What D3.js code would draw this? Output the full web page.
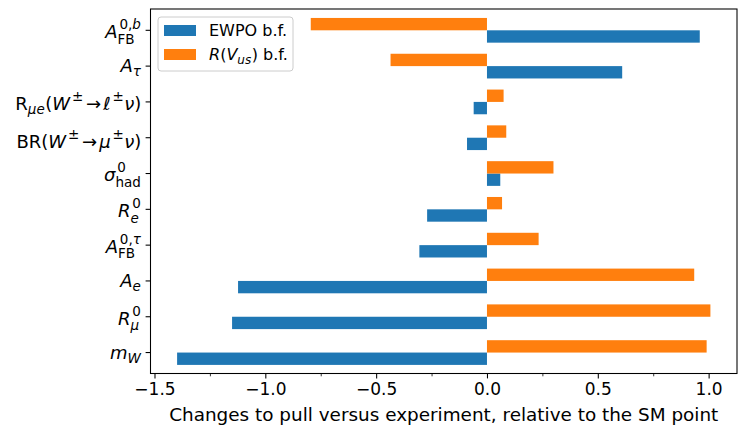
<!DOCTYPE html>
<html>
<head>
<meta charset="utf-8">
<script src="https://cdn.jsdelivr.net/npm/d3@7"></script>
<style>
  body { margin: 0; background: #fff; }
  text { font-family: "DejaVu Sans"; fill: #000; }
</style>
</head>
<body>
<div id="chart"></div>
<script>
// observables, top to bottom
const observables = ["AFB0b", "Atau", "Rmue", "BRWmu", "sigmahad", "Re0", "AFB0tau", "Ae", "Rmu0", "mW"];
const ewpo = [0.96, 0.61, -0.06, -0.09, 0.06, -0.27, -0.305, -1.123, -1.15, -1.398];
const rvus = [-0.795, -0.435, 0.075, 0.087, 0.30, 0.068, 0.233, 0.935, 1.008, 0.991];
const xTicks = [-1.5, -1.0, -0.5, 0.0, 0.5, 1.0];
const xMinorTicks = [-1.25, -0.75, -0.25, 0.25, 0.75];
const xTitle = "Changes to pull versus experiment, relative to the SM point";

// mathtext-ish pieces for the labels: t = text, i = italic, sub/sup = scripts, rel = relation spacing
const labelParts = {
  AFB0b: [{t: "A", i: 1}, {sub: [{t: "FB"}], sup: [{t: "0, "}, {t: "b", i: 1}]}],
  Atau: [{t: "A", i: 1}, {sub: [{t: "τ", i: 1}]}],
  Rmue: [{t: "R"}, {sub: [{t: "μe", i: 1}]}, {t: "("}, {t: "W", i: 1}, {sup: [{t: "±"}]}, {t: "→", rel: 1}, {t: "ℓ", i: 1}, {sup: [{t: "±"}]}, {t: "ν", i: 1}, {t: ")"}],
  BRWmu: [{t: "BR("}, {t: "W", i: 1}, {sup: [{t: "±"}]}, {t: "→", rel: 1}, {t: "μ", i: 1}, {sup: [{t: "±"}]}, {t: "ν", i: 1}, {t: ")"}],
  sigmahad: [{t: "σ", i: 1}, {sub: [{t: "had"}], sup: [{t: "0"}]}],
  Re0: [{t: "R", i: 1}, {sub: [{t: "e", i: 1}], sup: [{t: "0"}]}],
  AFB0tau: [{t: "A", i: 1}, {sub: [{t: "FB"}], sup: [{t: "0, "}, {t: "τ", i: 1}]}],
  Ae: [{t: "A", i: 1}, {sub: [{t: "e", i: 1}]}],
  Rmu0: [{t: "R", i: 1}, {sub: [{t: "μ", i: 1}], sup: [{t: "0"}]}],
  mW: [{t: "m", i: 1}, {sub: [{t: "W", i: 1}]}]
};
const seriesNames = [
  [{t: "EWPO b.f."}],
  [{t: "R", i: 1}, {t: "("}, {t: "V", i: 1}, {sub: [{t: "us", i: 1}]}, {t: ") b.f."}]
];
const colors = ["#1f77b4", "#ff7f0e"];

const W = 747, H = 434;
const margin = { top: 9, right: 10, bottom: 60.5, left: 150.5 };
const width = W - margin.left - margin.right;
const height = H - margin.top - margin.bottom;
const fs = 17;
const labelFs = 18;

const svg = d3.select("#chart").append("svg")
  .attr("width", W).attr("height", H);

const g = svg.append("g").attr("transform", `translate(${margin.left},${margin.top})`);

const xScale = d3.scaleLinear().domain([-1.518, 1.128]).range([0, width]);
const yScale = d3.scaleLinear().domain([-0.585, 9.595]).range([height, 0]);
const pos = i => observables.length - 1 - i;
const bh = 0.345;

// little mathtext layout: returns advance width
function drawMath(sel, parts, size) {
  let cx = 0, lastItalic = false;
  const put = (p, x, dy, s) => {
    const t = sel.append("text")
      .attr("x", x).attr("y", dy)
      .style("font-size", s + "px")
      .style("font-style", p.i ? "italic" : "normal")
      .text(p.t);
    return t.node().getComputedTextLength();
  };
  parts.forEach(p => {
    if (p.t !== undefined) {
      const sp = p.rel ? 0.12 * size : 0;
      cx += sp;
      cx += put(p, cx, 0, size) + sp;
      lastItalic = !!p.i;
    } else {
      const s = size * 0.75;
      let ws = 0, wu = 0;
      if (p.sub) {
        let xx = cx;
        p.sub.forEach(q => { xx += put(q, xx, (p.sup ? 0.3 : 0.22) * size, s); });
        ws = xx - cx;
      }
      if (p.sup) {
        const x0 = cx + (lastItalic ? 0.1 * size : 0);
        let xx = x0;
        p.sup.forEach(q => { xx += put(q, xx, -0.5 * size, s); });
        wu = xx - cx;
      }
      cx += Math.max(ws, wu) + 0.03 * size;
      lastItalic = false;
    }
  });
  return cx;
}

// bars
const bars = g.append("g").attr("class", "bars");
[ewpo, rvus].forEach((vals, k) => {
  bars.selectAll(`rect.s${k}`)
    .data(vals)
    .join("rect")
    .attr("class", `s${k}`)
    .attr("x", d => xScale(Math.min(0, d)))
    .attr("width", d => Math.abs(xScale(d) - xScale(0)))
    .attr("y", (d, i) => k === 0 ? yScale(pos(i)) : yScale(pos(i) + bh))
    .attr("height", yScale(0) - yScale(bh))
    .attr("fill", colors[k]);
});

// x axis
const xAxis = g.append("g")
  .attr("class", "x-axis")
  .attr("transform", `translate(0,${height})`)
  .call(d3.axisBottom(xScale).tickValues(xTicks).tickSize(4.9).tickPadding(4.7).tickFormat(d3.format(".1f")));
xAxis.select(".domain").remove();
xAxis.selectAll(".tick text")
  .attr("font-family", "DejaVu Sans")
  .style("font-size", fs + "px");
xAxis.selectAll(".tick line").attr("stroke-width", 1.07);

const xMinor = g.append("g")
  .attr("transform", `translate(0,${height})`)
  .call(d3.axisBottom(xScale).tickValues(xMinorTicks).tickSize(2.8).tickFormat(""));
xMinor.select(".domain").remove();
xMinor.selectAll(".tick line").attr("stroke-width", 0.8);

// y ticks + labels
const yAxis = g.append("g").attr("class", "y-axis");
yAxis.selectAll("line")
  .data(observables)
  .join("line")
  .attr("x1", -4.9).attr("x2", 0)
  .attr("y1", (d, i) => yScale(pos(i)))
  .attr("y2", (d, i) => yScale(pos(i)))
  .attr("stroke", "#000")
  .attr("stroke-width", 1.07);

observables.forEach((key, i) => {
  const lab = yAxis.append("g");
  const w = drawMath(lab, labelParts[key], labelFs);
  const bb = lab.node().getBBox();
  lab.attr("transform", `translate(${-4.9 - 4.2 - w},${yScale(pos(i)) - (bb.y + bb.height / 2) + 1})`);
});

// frame
g.append("rect")
  .attr("width", width).attr("height", height)
  .attr("fill", "none")
  .attr("stroke", "#000")
  .attr("stroke-width", 1.07);

// x title
g.append("text")
  .attr("x", width / 2)
  .attr("y", height + 47)
  .attr("text-anchor", "middle")
  .style("font-size", "18.4px")
  .text(xTitle);

// legend
const legend = g.append("g").attr("transform", "translate(7.5,8)");
legend.append("rect")
  .attr("width", 135).attr("height", 54)
  .attr("rx", 3)
  .attr("fill", "#fff").attr("fill-opacity", 0.8)
  .attr("stroke", "#ccc").attr("stroke-width", 1);
seriesNames.forEach((parts, k) => {
  const row = legend.append("g").attr("transform", `translate(6,${8 + k * 24})`);
  row.append("rect")
    .attr("width", 32).attr("height", 11)
    .attr("fill", colors[k]);
  const txt = row.append("g").attr("transform", "translate(45,11)");
  drawMath(txt, parts, 16);
});
</script>
</body>
</html>
